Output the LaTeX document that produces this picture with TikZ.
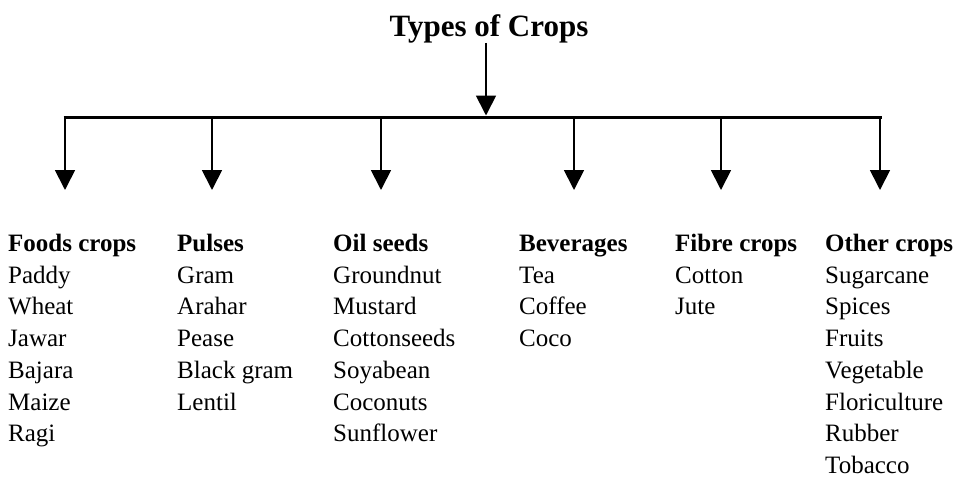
\documentclass[tikz,border=0pt]{standalone}
\usepackage{fontspec}
\setmainfont{Liberation Serif}
\usetikzlibrary{arrows.meta}

\tikzset{
  branch/.style={line width=1.8pt, -{Triangle[length=20pt,width=20pt]}},
  croplist/.style={anchor=north west, inner sep=0pt, align=left,
    font=\fontsize{25}{31.7}\selectfont},
}
\newcommand{\crophead}[1]{\textbf{#1\vphantom{bd}}}

\begin{document}
\begin{tikzpicture}[x=1pt, y=1pt]
  \useasboundingbox (0,0) rectangle (958,-479);

  % --------------------------------------------------------------------------
  % Title and stem down to the bar
  % --------------------------------------------------------------------------
  \node[inner sep=0pt, anchor=base, font=\fontsize{31}{36}\selectfont\bfseries]
    (title) at (489,-36) {Types of Crops};
  \coordinate (hub) at (486,-115.5);
  \draw[branch] (title.south -| hub) -- (hub);

  % --------------------------------------------------------------------------
  % Bar and the six branches
  % --------------------------------------------------------------------------
  \coordinate (barL) at (63.5,-117);
  \coordinate (barR) at (881.5,-117);
  \draw[line width=3pt] (barL) -- (barR);

  \foreach \n/\x in {1/65, 2/212, 3/381, 4/574, 5/721, 6/880} {
    \coordinate (top\n) at (\x,-118);
    \coordinate (tip\n) at (\x,-190);
    \draw[branch] (top\n) -- (tip\n);
  }

  % --------------------------------------------------------------------------
  % Crop lists
  % --------------------------------------------------------------------------
  \node[croplist] (food) at (8,-234)
    {\crophead{Foods crops}\\Paddy\\Wheat\\Jawar\\Bajara\\Maize\\Ragi};
  \node[croplist] (pulse) at (177,-234)
    {\crophead{Pulses}\\Gram\\Arahar\\Pease\\Black gram\\Lentil};
  \node[croplist] (oil) at (333,-234)
    {\crophead{Oil seeds}\\Groundnut\\Mustard\\Cottonseeds\\Soyabean\\Coconuts\\Sunflower};
  \node[croplist] (drink) at (519,-234)
    {\crophead{Beverages}\\Tea\\Coffee\\Coco};
  \node[croplist] (fibre) at (675,-234)
    {\crophead{Fibre crops}\\Cotton\\Jute};
  \node[croplist] (other) at (825,-234)
    {\crophead{Other crops}\\Sugarcane\\Spices\\Fruits\\Vegetable\\Floriculture\\Rubber\\Tobacco};

\end{tikzpicture}
\end{document}
